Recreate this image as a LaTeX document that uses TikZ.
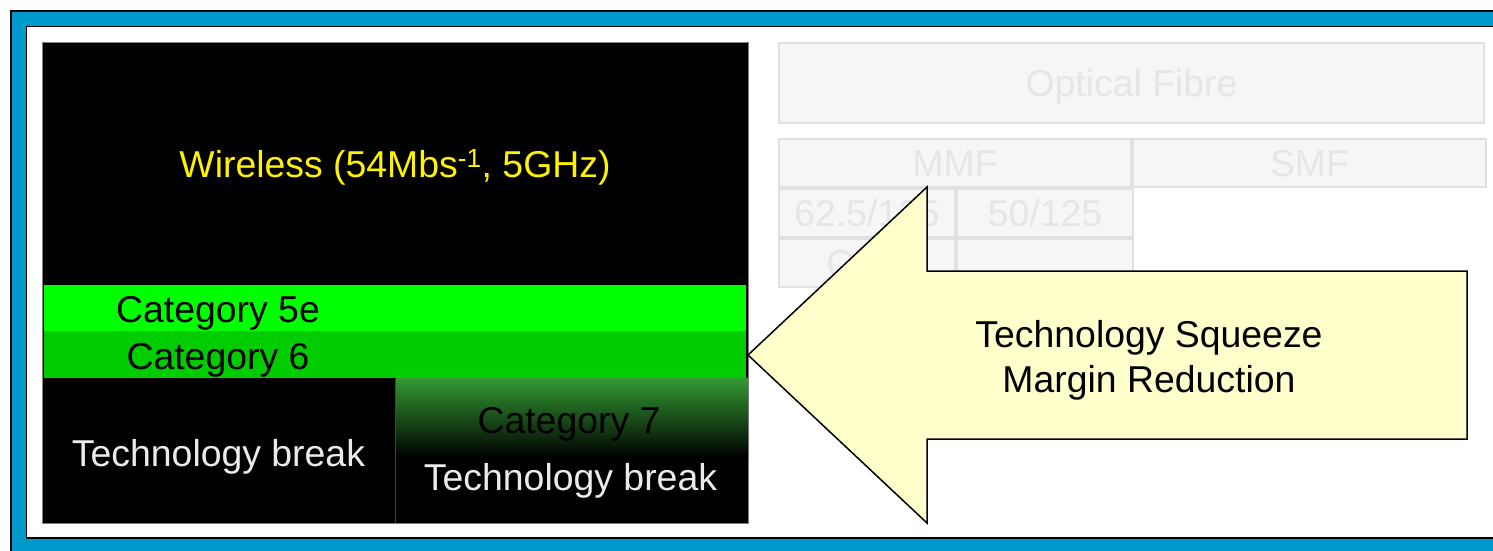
\documentclass[tikz,border=0pt]{standalone}
\usepackage{fontspec}
\setmainfont{Liberation Sans}
\usetikzlibrary{positioning}
\definecolor{frameblue}{RGB}{0,153,204}
\definecolor{catfivee}{RGB}{0,255,0}
\definecolor{catsix}{RGB}{0,204,0}
\definecolor{catseven}{RGB}{51,153,51}
\definecolor{arrowfill}{RGB}{255,255,204}
\definecolor{faintfill}{RGB}{246,246,246}
\definecolor{faintline}{RGB}{225,225,225}
\definecolor{fainttext}{RGB}{230,230,230}
\definecolor{breakgray}{RGB}{235,235,235}
\tikzset{
	fibrecell/.style={draw=faintline, line width=2pt, fill=faintfill, text=fainttext, inner sep=0pt,
		minimum height=48pt, text height=26.5pt, text depth=0pt},
	cabletext/.style={anchor=base, inner sep=0pt}
}
\begin{document}
\begin{tikzpicture}[x=1pt, y=-1pt, line join=miter, font=\fontsize{37.4}{44}\selectfont]
			\useasboundingbox (0,0) rectangle (1493,550);
			\clip (0,0) rectangle (1493,550);
			\fill [white] (0,0) rectangle (1493,550);
			%
			\draw [fill=frameblue, line width=1.5pt] (11,11) rectangle (1530,580);
			\draw [fill=white, line width=1.5pt] (26.5,26.5) rectangle (1515,538);
			% optical fibre table, faded
			\node [fibrecell, minimum width=705pt, minimum height=80pt] (fibre) at (1131.5,83) {Optical Fibre};
			\node [fibrecell, minimum width=352pt] (mmf) at (955,163) {MMF};
			\node [fibrecell, minimum width=353pt, anchor=west] (smf) at (mmf.east) {SMF};
			\node [fibrecell, minimum width=176pt, anchor=north west] (sixtytwo) at (mmf.south west) {62.5/125};
			\node [fibrecell, minimum width=176pt, anchor=west] (fifty) at (sixtytwo.east) {50/125};
			\node [fibrecell, minimum width=176pt, anchor=north] (omone) at (sixtytwo.south) {OM1};
			\node [fibrecell, minimum width=176pt, anchor=west] (omtwo) at (omone.east) {};
			% copper cable block
			\draw [fill=black, draw=gray] (42,42) rectangle (748,523);
			\fill [catfivee] (44,285) rectangle (746,331);
			\fill [catsix] (44,331) rectangle (746,378);
			\shade [top color=catseven, middle color=catseven!72!black, bottom color=black] (395,378) rectangle (748,458);
			\draw [gray!50!black] (395,378) -- (395,523);
			\node [cabletext, text=yellow] (wireless) at (395,177) {Wireless (54Mbs\textsuperscript{-1}, 5GHz)};
			\node [cabletext] (catfive) at (218,322) {Category 5e};
			\node [cabletext] (catsixlabel) at (218,369) {Category 6};
			\node [cabletext, text=breakgray] (breakleft) at (218.5,466) {Technology break};
			\node [cabletext] (catsevenlabel) at (569,433) {Category 7};
			\node [cabletext, text=breakgray] (breakright) at (570.5,490) {Technology break};
			% squeeze arrow
			\draw [fill=arrowfill, line width=1.5pt] (748,355) -- (927,187) -- (927,271) -- (1467,271)
			-- (1467,439) -- (927,439) -- (927,523) -- cycle;
			\node [cabletext] (squeeze) at (1149,347) {Technology Squeeze};
			\node [cabletext] (margin) at (1149,392) {Margin Reduction};
\end{tikzpicture}
\end{document}
